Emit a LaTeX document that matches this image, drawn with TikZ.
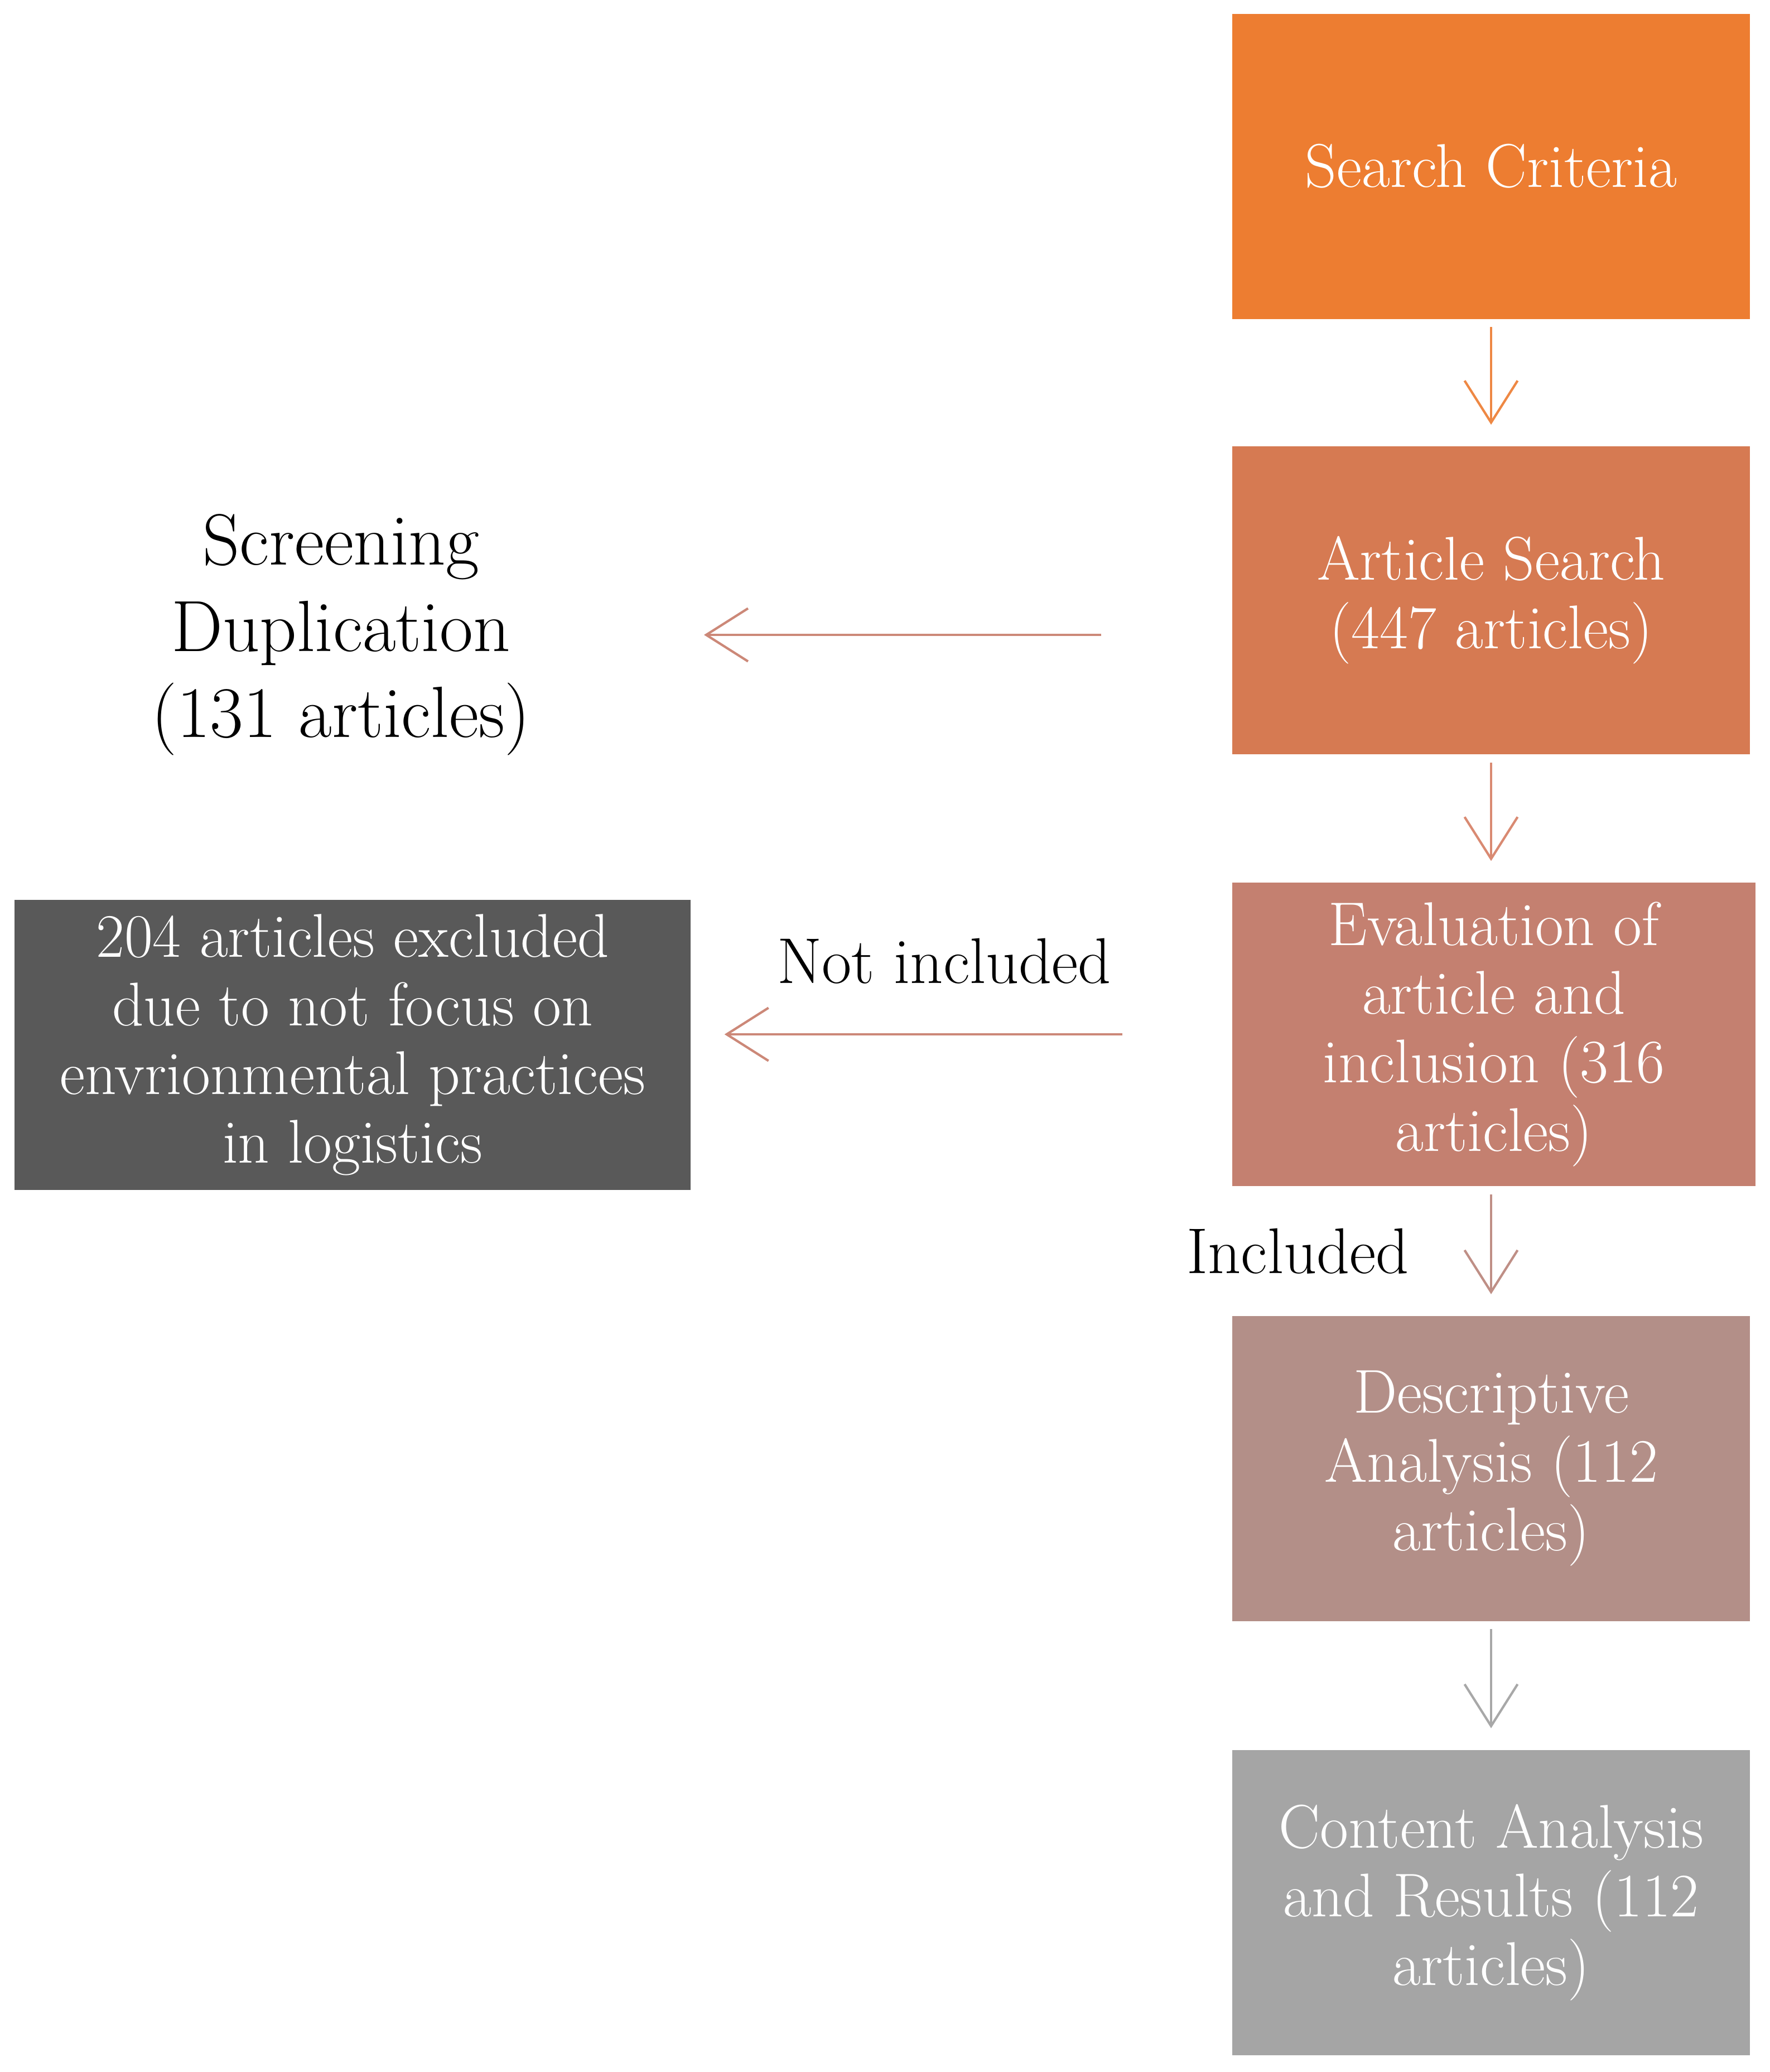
\documentclass[tikz,border=0pt]{standalone}
\usetikzlibrary{positioning,arrows.meta}
\definecolor{critorange}{HTML}{ED7D31}
\definecolor{searchorange}{HTML}{D67A52}
\definecolor{evalrose}{HTML}{C48070}
\definecolor{descmauve}{HTML}{B38F88}
\definecolor{contentgray}{HTML}{A5A5A5}
\definecolor{exclgray}{HTML}{595959}
\definecolor{arrorange}{HTML}{EE8844}
\definecolor{arrsalmon}{HTML}{D98A72}
\definecolor{arrrose}{HTML}{CC8878}
\definecolor{arrmauve}{HTML}{BF8F86}
\definecolor{arrgray}{HTML}{A8A8A8}

\begin{document}
\begin{tikzpicture}[
  stage/.style={minimum width=9.28cm, minimum height=5.47cm, align=center, text=white, inner sep=0pt, font=\fontsize{31.5}{35}\selectfont},
  flow/.style={line width=1.2pt, -{Straight Barb[length=0.75cm, width=0.95cm]}, shorten <=0.14cm, shorten >=0.38cm},
  note/.style={inner sep=0pt, font=\fontsize{33}{38}\selectfont}
]
  \useasboundingbox (0,0) rectangle (31.73,-37.14);

  \node[stage, fill=critorange] (crit) at (26.73,-2.98) {Search Criteria};
  \node[stage, fill=searchorange, minimum height=5.52cm] (search) at (26.73,-10.76) {Article Search\\(447 articles)};
  \node[stage, fill=evalrose, minimum width=9.38cm, minimum height=5.44cm] (eval) at (26.78,-18.54) {Evaluation of\\article and\\inclusion (316\\articles)};
  \node[stage, fill=descmauve] (desc) at (26.73,-26.32) {Descriptive\\Analysis (112\\articles)};
  \node[stage, fill=contentgray] (content) at (26.73,-34.10) {Content Analysis\\and Results (112\\articles)};

  \node[align=center, inner sep=0pt, font=\fontsize{37}{44}\selectfont] (screen) at (6.11,-11.38) {Screening\\Duplication\\(131 articles)};
  \node[stage, fill=exclgray, minimum width=12.12cm, minimum height=5.2cm] (excl) at (6.32,-18.73) {204 articles excluded\\due to not focus on\\envrionmental practices\\in logistics};

  \draw[flow, draw=arrorange] (crit) -- (search);
  \draw[flow, draw=arrsalmon] (search) -- (search |- eval.north);
  \draw[flow, draw=arrmauve] (eval.south -| desc) -- (desc) node[note, midway, left=1.45cm] (incl) {Included};
  \draw[flow, draw=arrgray] (desc) -- (content);

  \draw[flow, draw=arrrose, shorten <=2.34cm, shorten >=6.51cm] (search.west |- screen.center) -- (screen.center);
  \draw[flow, draw=arrrose, shorten <=1.96cm, shorten >=0.60cm] (eval.west) -- (excl.east |- eval.west)
    node[note, midway, above=0.88cm, xshift=-0.31cm] (notincl) {Not included};
\end{tikzpicture}
\end{document}
